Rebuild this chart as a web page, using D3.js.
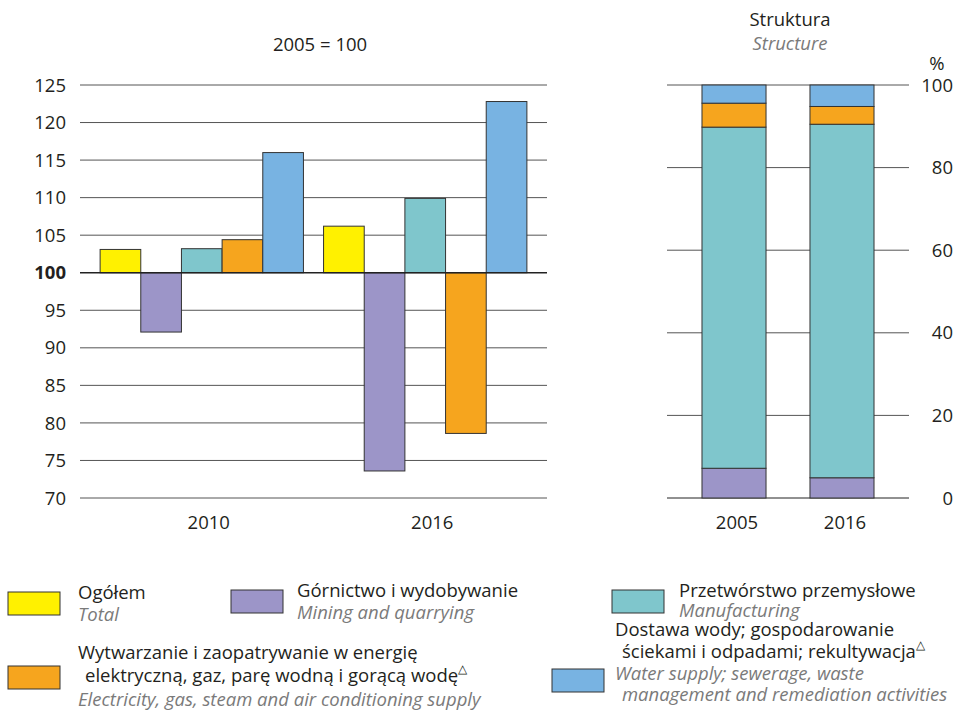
<!DOCTYPE html>
<html>
<head>
<meta charset="utf-8">
<script src="https://cdn.jsdelivr.net/npm/d3@7"></script>
<style>
    body { margin: 0; background: #fff; }
    svg text { font-family: "Open Sans", sans-serif; fill: #231f20; }
    .en { font-style: italic; fill: #7a7a7a; }
</style>
</head>
<body>
<svg id="chart" width="968" height="723"></svg>
<script>
// ---- data ----
const years = ["2010", "2016"];
const sectorKeys = ["total", "mining", "manufacturing", "energy", "water"];
const total = [103.1, 106.2];
const mining = [92.1, 73.6];
const manufacturing = [103.2, 109.9];
const energy = [104.4, 78.6];
const water = [116.0, 122.8];
const indexTicks = [70, 75, 80, 85, 90, 95, 100, 105, 110, 115, 120, 125];

const structYears = ["2005", "2016"];
const structKeys = ["mining", "manufacturing", "energy", "water"];
const structMining = [7.2, 4.9];
const structManufacturing = [82.6, 85.6];
const structEnergy = [5.8, 4.3];
const structWater = [4.4, 5.2];
const structTicks = [0, 20, 40, 60, 80, 100];

const colors = {
    total: "#fff100",
    mining: "#9c95c8",
    manufacturing: "#7fc6cc",
    energy: "#f6a51e",
    water: "#78b3e2"
};

const legendItems = [
    { key: "total", pl: ["Ogółem"], en: ["Total"] },
    { key: "mining", pl: ["Górnictwo i wydobywanie"], en: ["Mining and quarrying"] },
    { key: "manufacturing", pl: ["Przetwórstwo przemysłowe"], en: ["Manufacturing"] },
    { key: "energy", pl: ["Wytwarzanie i zaopatrywanie w energię", " elektryczną, gaz, parę wodną i gorącą wodę"],
      en: ["Electricity, gas, steam and air conditioning supply"], mark: 1 },
    { key: "water", pl: ["Dostawa wody; gospodarowanie", " ściekami i odpadami; rekultywacja"],
      en: ["Water supply; sewerage, waste", " management and remediation activities"], mark: 1 }
];

const series = { total, mining, manufacturing, energy, water };
const indexData = years.map((y, i) => ({
    year: y,
    values: sectorKeys.map(k => ({ key: k, value: series[k][i] }))
}));

const structTable = structYears.map((y, i) => ({
    year: y,
    mining: structMining[i],
    manufacturing: structManufacturing[i],
    energy: structEnergy[i],
    water: structWater[i]
}));

const svg = d3.select("#chart");
const fs = 18.5;
const legendFs = 18.5;

// ================= left chart: index 2005 = 100 =================
const left = { x0: 80, x1: 547, top: 85, bottom: 498 };

const x0 = d3.scaleBand().domain(years).range([left.x0, left.x1]).paddingInner(0.09).paddingOuter(0.09);
const x1 = d3.scaleBand().domain(sectorKeys).range([0, x0.bandwidth()]);
const y = d3.scaleLinear().domain([70, 125]).range([left.bottom, left.top]);

const leftG = svg.append("g");

leftG.append("g").selectAll("line")
    .data(indexTicks.filter(d => d !== 100))
    .join("line")
    .attr("x1", left.x0).attr("x2", left.x1)
    .attr("y1", d => y(d)).attr("y2", d => y(d))
    .attr("stroke", "#555").attr("stroke-width", 1);

leftG.append("g").selectAll("text")
    .data(indexTicks)
    .join("text")
    .attr("x", 66)
    .attr("y", d => y(d))
    .attr("dy", "0.36em")
    .attr("text-anchor", "end")
    .attr("font-size", fs)
    .attr("font-weight", d => d === 100 ? "bold" : "normal")
    .text(d => d);

const groups = leftG.append("g").selectAll("g")
    .data(indexData)
    .join("g")
    .attr("transform", d => `translate(${x0(d.year)},0)`);

groups.selectAll("rect")
    .data(d => d.values)
    .join("rect")
    .attr("x", d => x1(d.key))
    .attr("width", x1.bandwidth())
    .attr("y", d => y(Math.max(100, d.value)))
    .attr("height", d => Math.abs(y(d.value) - y(100)))
    .attr("fill", d => colors[d.key])
    .attr("stroke", "#333")
    .attr("stroke-width", 1);

leftG.append("line")
    .attr("x1", left.x0).attr("x2", left.x1)
    .attr("y1", y(100)).attr("y2", y(100))
    .attr("stroke", "#222").attr("stroke-width", 1.4);

leftG.append("g").selectAll("text")
    .data(years)
    .join("text")
    .attr("x", d => x0(d) + x0.bandwidth() / 2 + 7)
    .attr("y", 529)
    .attr("text-anchor", "middle")
    .attr("font-size", fs)
    .text(d => d);

svg.append("text")
    .attr("x", 320).attr("y", 51)
    .attr("text-anchor", "middle")
    .attr("font-size", fs)
    .text("2005 = 100");

// ================= right chart: structure =================
const right = { x0: 667, x1: 909, top: 85, bottom: 498 };

const xs = d3.scaleBand().domain(structYears).range([right.x0, right.x1]).paddingInner(0.407).paddingOuter(0.324);
const ys = d3.scaleLinear().domain([0, 100]).range([right.bottom, right.top]);
const stacked = d3.stack().keys(structKeys)(structTable);

const rightG = svg.append("g");

rightG.append("g").selectAll("line")
    .data(structTicks)
    .join("line")
    .attr("x1", right.x0).attr("x2", right.x1)
    .attr("y1", d => ys(d)).attr("y2", d => ys(d))
    .attr("stroke", d => d === 0 ? "#222" : "#555")
    .attr("stroke-width", 1);

rightG.append("g").selectAll("g")
    .data(stacked)
    .join("g")
    .attr("fill", d => colors[d.key])
    .selectAll("rect")
    .data(d => d)
    .join("rect")
    .attr("x", d => xs(d.data.year))
    .attr("width", xs.bandwidth())
    .attr("y", d => ys(d[1]))
    .attr("height", d => ys(d[0]) - ys(d[1]))
    .attr("stroke", "#333")
    .attr("stroke-width", 1);

rightG.append("g").selectAll("text")
    .data(structTicks)
    .join("text")
    .attr("x", 953)
    .attr("y", d => ys(d))
    .attr("dy", "0.36em")
    .attr("text-anchor", "end")
    .attr("font-size", fs)
    .text(d => d);

rightG.append("text")
    .attr("x", 937).attr("y", 70)
    .attr("text-anchor", "middle")
    .attr("font-size", fs)
    .text("%");

rightG.append("g").selectAll("text")
    .data(structYears)
    .join("text")
    .attr("x", d => xs(d) + xs.bandwidth() / 2 + 3)
    .attr("y", 529)
    .attr("text-anchor", "middle")
    .attr("font-size", fs)
    .text(d => d);

rightG.append("text")
    .attr("x", 790).attr("y", 26)
    .attr("text-anchor", "middle")
    .attr("font-size", fs)
    .text("Struktura");

rightG.append("text")
    .attr("class", "en")
    .attr("x", 790).attr("y", 50)
    .attr("text-anchor", "middle")
    .attr("font-size", fs)
    .text("Structure");

// ================= legend =================
const legendPos = {
    total: { bx: 8, by: 592, tx: 78, ty: [599, 621] },
    mining: { bx: 231, by: 590, tx: 297, ty: [597, 619] },
    manufacturing: { bx: 612, by: 590, tx: 679, ty: [597, 617] },
    energy: { bx: 8, by: 666, tx: 78, ty: [659, 682, 706] },
    water: { bx: 552, by: 669, tx: 615, ty: [636, 658, 680, 701] }
};

const legend = svg.append("g");
legendItems.forEach(item => {
    const p = legendPos[item.key];
    legend.append("rect")
        .attr("x", p.bx).attr("y", p.by)
        .attr("width", 52).attr("height", 23)
        .attr("fill", colors[item.key])
        .attr("stroke", "#333").attr("stroke-width", 1);

    const lines = item.pl.map((t, i) => ({ t, en: false, mark: item.mark === i }))
        .concat(item.en.map(t => ({ t, en: true, mark: false })));

    lines.forEach((l, i) => {
        const indent = l.t.startsWith(" ") ? 7 : 0;
        const txt = legend.append("text")
            .attr("class", l.en ? "en" : null)
            .attr("x", p.tx + indent)
            .attr("y", p.ty[i])
            .attr("font-size", legendFs)
            .text(l.t.trim());
        if (l.mark) {
            txt.append("tspan")
                .attr("font-size", 12)
                .attr("dy", -9)
                .text("\u25B3");
        }
    });
});
</script>
</body>
</html>
